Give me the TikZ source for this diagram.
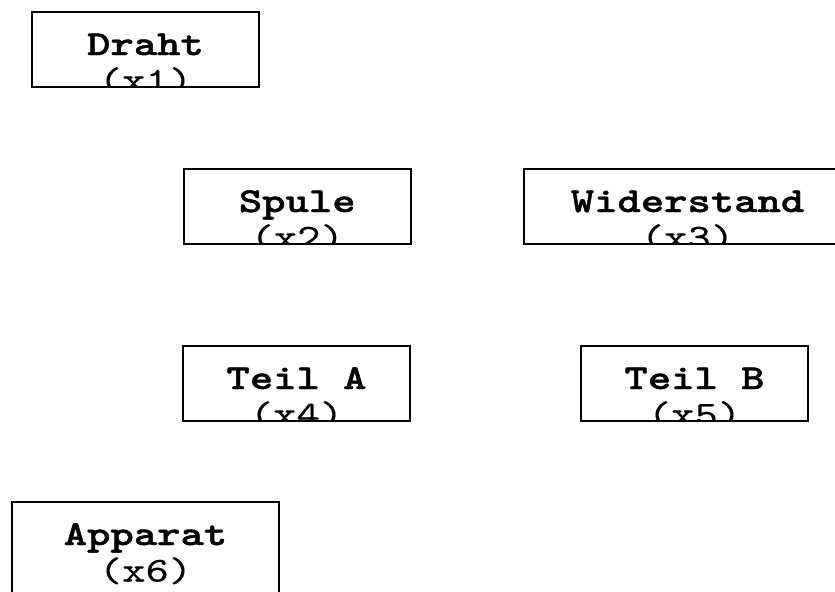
\documentclass[tikz,border=0pt]{standalone}
\usepackage{fontspec}
\newfontfamily\partnamefont{lmmonolt10-bold.otf}[FakeStretch=1.27, FakeBold=1.2]
\newfontfamily\partcountfont{lmmono10-regular.otf}[FakeStretch=1.27, FakeBold=0.2]

\tikzset{
  partname/.style = {anchor=base, inner sep=0pt,
    font=\partnamefont\fontsize{14pt}{15pt}\selectfont},
  partcount/.style = {anchor=base, inner sep=0pt,
    font=\partcountfont\fontsize{14pt}{15pt}\selectfont},
  % box with name and count, text is cut off at the frame
  partbox/.style 2 args = {draw, line width=0.8pt, inner sep=0pt,
    anchor=north west, minimum height=30pt,
    path picture={
      \node[partname] at ([yshift=-17.2pt]path picture bounding box.north) {#1};
      \node[partcount] at ([yshift=-31.8pt]path picture bounding box.north) {(#2)};
    }}
}

\begin{document}
\begin{tikzpicture}[x=1pt, y=1pt]
  \clip (0,0) rectangle (334,-236.4);
  \node[partbox={Draht}{x1}, minimum width=90.8pt] (draht) at (12.4,-4.4) {};
  \node[partbox={Spule}{x2}, minimum width=90.6pt] (spule) at (73.2,-67.2) {};
  \node[partbox={Widerstand}{x3}, minimum width=130.8pt] (widerstand) at (209.2,-67.2) {};
  \node[partbox={Teil A}{x4}, minimum width=90.8pt] (teilA) at (72.8,-138) {};
  \node[partbox={Teil B}{x5}, minimum width=90.8pt] (teilB) at (232,-138) {};
  \node[partbox={Apparat}{x6}, minimum width=106.8pt, minimum height=48pt] (apparat) at (4.4,-200.4) {};
\end{tikzpicture}
\end{document}
